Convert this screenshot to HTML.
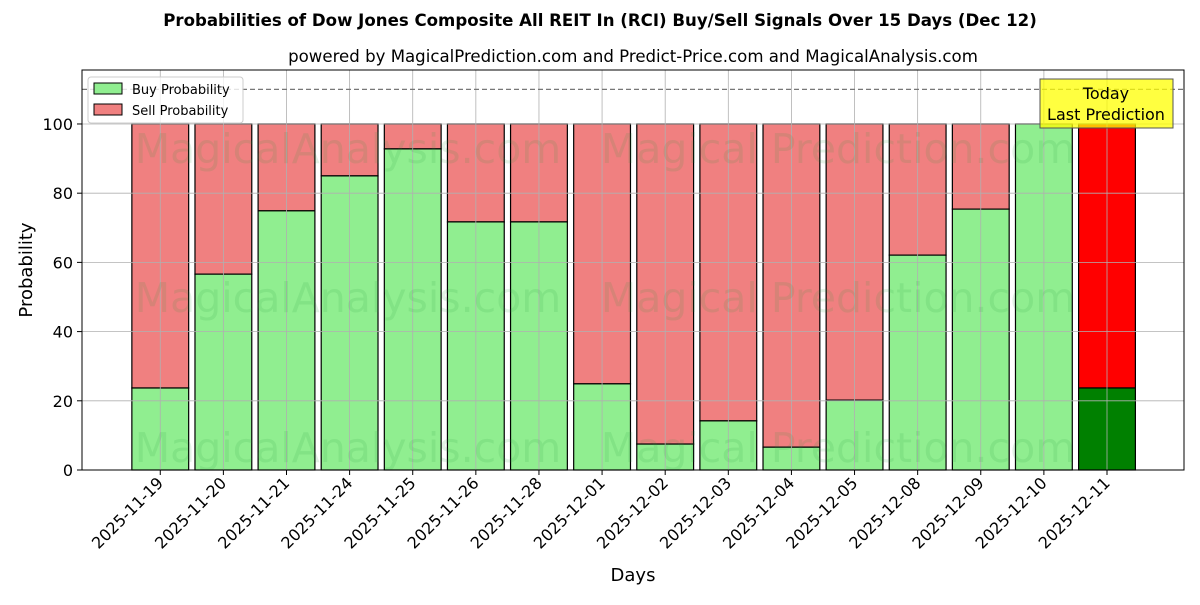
<!DOCTYPE html>
<html><head><meta charset="utf-8"><style>
body{margin:0;background:#fff;font-family:"Liberation Sans","DejaVu Sans",sans-serif}
</style></head><body>
<svg id="chart" width="1200" height="600" xmlns="http://www.w3.org/2000/svg" font-family="DejaVu Sans, Liberation Sans, sans-serif">
<text x="600" y="26" text-anchor="middle" font-size="16.6" font-weight="bold">Probabilities of Dow Jones Composite All REIT In (RCI) Buy/Sell Signals Over 15 Days (Dec 12)</text>
<text x="633" y="62" text-anchor="middle" font-size="16.6">powered by MagicalPrediction.com and Predict-Price.com and MagicalAnalysis.com</text>
<g id="bars"></g>
<g id="grid"></g>
<g id="wm" fill="#2a9d3a" fill-opacity="0.13" font-size="41">
<text x="348" y="163" text-anchor="middle">MagicalAnalysis.com</text>
<text x="838" y="163" text-anchor="middle">Magical Prediction.com</text>
<text x="348" y="312" text-anchor="middle">MagicalAnalysis.com</text>
<text x="838" y="312" text-anchor="middle">Magical Prediction.com</text>
<text x="348" y="462" text-anchor="middle">MagicalAnalysis.com</text>
<text x="838" y="462" text-anchor="middle">Magical Prediction.com</text>
</g>
<g id="axes"></g>
<text x="32" y="270" transform="rotate(-90 32 270)" text-anchor="middle" font-size="18">Probability</text>
<text x="633" y="581" text-anchor="middle" font-size="18">Days</text>
<g>
<rect x="88" y="77" width="155" height="46" fill="#fff" fill-opacity="0.8" stroke="#ccc" rx="3"/>
<rect x="94" y="83" width="28" height="11" fill="#90ee90" stroke="#000"/>
<text x="132" y="94" font-size="13">Buy Probability</text>
<rect x="94" y="104" width="28" height="11" fill="#f08080" stroke="#000"/>
<text x="132" y="115" font-size="13">Sell Probability</text>
</g>
<g>
<rect x="1040" y="79" width="133" height="49" fill="#ffff00" fill-opacity="0.75" stroke="#555"/>
<text x="1106" y="99" text-anchor="middle" font-size="16">Today</text>
<text x="1106" y="120" text-anchor="middle" font-size="16">Last Prediction</text>
</g>
</svg>
<script>
const days=["2025-11-19","2025-11-20","2025-11-21","2025-11-24","2025-11-25","2025-11-26","2025-11-28","2025-12-01","2025-12-02","2025-12-03","2025-12-04","2025-12-05","2025-12-08","2025-12-09","2025-12-10","2025-12-11"];
const buyValues=[23.7,56.6,74.9,85,92.8,71.7,71.7,24.9,7.5,14.2,6.6,20.2,62.1,75.4,100,23.7];
const yTicks=[0,20,40,60,80,100];
const thresholdValue=110;
const NS="http://www.w3.org/2000/svg";
const L=82,R=1184,T=70,B=470,xmin=-1.24,xmax=16.22,ymax=115.6;
const x=i=>L+(i-xmin)/(xmax-xmin)*(R-L);
const y=v=>B-v/ymax*(B-T);
function mk(p,tag,a){const e=document.createElementNS(NS,tag);for(const k in a)e.setAttribute(k,a[k]);p.appendChild(e);return e;}
const g=document.getElementById('grid'),bg=document.getElementById('bars'),ax=document.getElementById('axes');
yTicks.forEach(v=>{const l=mk(g,'line',{x1:L,x2:R,y1:y(v),y2:y(v),stroke:'#b0b0b0','stroke-width':0.8});


mk(ax,'line',{x1:L-5,x2:L,y1:y(v),y2:y(v),stroke:'#000'});
const t=mk(ax,'text',{x:L-9,y:y(v)+6,'text-anchor':'end','font-size':16});t.textContent=v;

});
days.forEach((d,i)=>{const l=mk(g,'line',{x1:x(i),x2:x(i),y1:T,y2:B,stroke:'#b0b0b0','stroke-width':0.8});

});
const hw=0.45*(x(1)-x(0));
days.forEach((d,i)=>{const last=i===days.length-1;const b=buyValues[i];
const s=mk(bg,'rect',{x:x(i)-hw,width:2*hw,y:y(100),height:y(b)-y(100),fill:last?'#ff0000':'#f08080',stroke:'#000','stroke-width':1.2});


const r=mk(bg,'rect',{x:x(i)-hw,width:2*hw,y:y(b),height:y(0)-y(b),fill:last?'#008000':'#90ee90',stroke:'#000','stroke-width':1.2});


mk(ax,'line',{x1:x(i),x2:x(i),y1:B,y2:B+5,stroke:'#000'});
const t=mk(ax,'text',{x:x(i)+4,y:B+14,'text-anchor':'end','font-size':16,transform:`rotate(-45 ${x(i)+4} ${B+14})`});t.textContent=d;

});
const dl=mk(ax,'line',{x1:L,x2:R,y1:y(thresholdValue),y2:y(thresholdValue),stroke:'#777','stroke-dasharray':'5,3','stroke-width':1.2});


const fr=mk(ax,'rect',{x:L,y:T,width:R-L,height:B-T,fill:'none',stroke:'#000','stroke-width':1});


</script>
</body></html>
